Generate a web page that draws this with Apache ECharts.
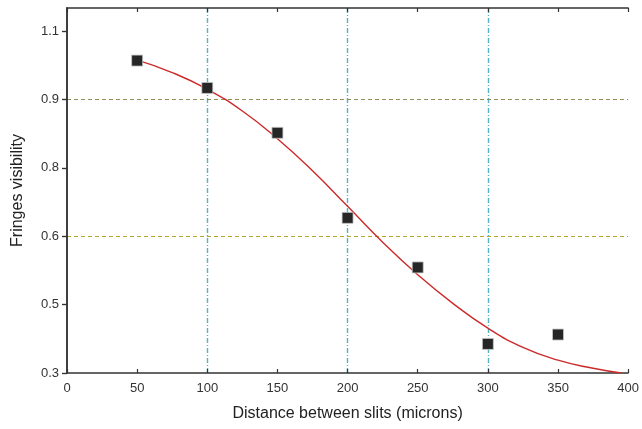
<!DOCTYPE html>
<html>
<head>
<meta charset="utf-8">
<script src="https://cdn.jsdelivr.net/npm/echarts@6/dist/echarts.min.js"></script>
<style>
  html, body { margin: 0; padding: 0; background: #fff; }
  #chart { width: 642px; height: 429px; }
</style>
</head>
<body>
<div id="chart"></div>
<script>
// Measured fringe visibility against slit separation
const slitDistance = [50, 100, 150, 200, 250, 300, 350];
const visibility = [1.031, 0.967, 0.862, 0.663, 0.547, 0.368, 0.390];

// Fitted curve through the measurements
const fitDistance = [50, 75, 100, 125, 150, 175, 200, 225, 250, 275, 300, 325, 350, 375, 395];
const fitVisibility = [1.032, 1.003, 0.964, 0.913, 0.848, 0.773, 0.690, 0.606, 0.530, 0.463, 0.405, 0.360, 0.330, 0.311, 0.300];

// Y axis tick positions and their printed labels
const yTickValues = [0.3, 0.46, 0.62, 0.78, 0.94, 1.1];
const yTickLabels = ['0.3', '0.5', '0.6', '0.8', '0.9', '1.1'];

// Guide lines
const verticalGuides = [100, 200, 300];
const horizontalGuides = [0.94, 0.62];
const horizontalGuideColors = ['#8f8f55', '#b3a62c'];

const X_MIN = 0, X_MAX = 400, Y_MIN = 0.3, Y_MAX = 1.154;

const chart = echarts.init(document.getElementById('chart'), null, { renderer: 'canvas' });

const axisLine = { show: true, lineStyle: { color: '#333', width: 1.5 } };
const tickStyle = { color: '#333', width: 1.2 };
const font = 'Liberation Sans, Arial, sans-serif';

const guideData = verticalGuides
  .map(x => ({ xAxis: x, lineStyle: { color: '#52b3c4', width: 1.4, type: [5, 2, 1, 2] } }))
  .concat(horizontalGuides.map((y, i) => ({ yAxis: y, lineStyle: { color: horizontalGuideColors[i], width: 1, type: [4, 3] } })));

const option = {
  backgroundColor: '#fff',
  animation: false,
  grid: { left: 67, right: 12, top: 8, bottom: 56 },
  xAxis: [
    {
      type: 'value', min: X_MIN, max: X_MAX, interval: 50, position: 'bottom', z: 5,
      axisLine: axisLine,
      axisTick: { show: true, inside: true, length: 4, lineStyle: tickStyle },
      axisLabel: { color: '#333', fontSize: 13, fontFamily: font, margin: 9 },
      splitLine: { show: false },
      name: 'Distance between slits (microns)', nameLocation: 'middle', nameGap: 33,
      nameTextStyle: { color: '#222', fontSize: 16, fontFamily: font }
    },
    {
      type: 'value', min: X_MIN, max: X_MAX, interval: 50, position: 'top', z: 5,
      axisLine: axisLine,
      axisTick: { show: true, inside: true, length: 4, lineStyle: tickStyle },
      axisLabel: { show: false }, splitLine: { show: false }
    }
  ],
  yAxis: [
    {
      type: 'value', min: Y_MIN, max: Y_MAX, position: 'left', z: 5,
      axisLine: axisLine,
      axisTick: { show: true, inside: false, length: 5, customValues: yTickValues, lineStyle: tickStyle },
      axisLabel: {
        color: '#333', fontSize: 13, fontFamily: font, margin: 8,
        customValues: yTickValues,
        formatter: function (v) {
          const i = yTickValues.findIndex(t => Math.abs(t - v) < 1e-6);
          return i >= 0 ? yTickLabels[i] : '';
        }
      },
      splitLine: { show: false },
      name: 'Fringes visibility', nameLocation: 'middle', nameGap: 41, nameRotate: 90,
      nameTextStyle: { color: '#222', fontSize: 16, fontFamily: font }
    },
    {
      type: 'value', min: Y_MIN, max: Y_MAX, position: 'right', z: 5,
      axisLine: axisLine,
      axisTick: { show: true, inside: true, length: 5, customValues: yTickValues, lineStyle: tickStyle },
      axisLabel: { show: false }, splitLine: { show: false }
    }
  ],
  series: [
    {
      // reference guide lines, kept beneath the data
      type: 'line', data: [], silent: true, z: 1,
      markLine: { z: 1, silent: true, symbol: 'none', label: { show: false }, animation: false, data: guideData }
    },
    {
      type: 'line', z: 9,
      data: fitDistance.map((x, i) => [x, fitVisibility[i]]),
      smooth: true, showSymbol: false, symbol: 'none',
      lineStyle: { color: '#cc2a2a', width: 1.4 }
    },
    {
      type: 'scatter', z: 10,
      data: slitDistance.map((x, i) => [x, visibility[i]]),
      symbol: 'rect', symbolSize: 11,
      itemStyle: { color: '#262626', opacity: 1, borderColor: '#c8c8c8', borderWidth: 0.8 }
    }
  ]
};

chart.setOption(option);
</script>
</body>
</html>
